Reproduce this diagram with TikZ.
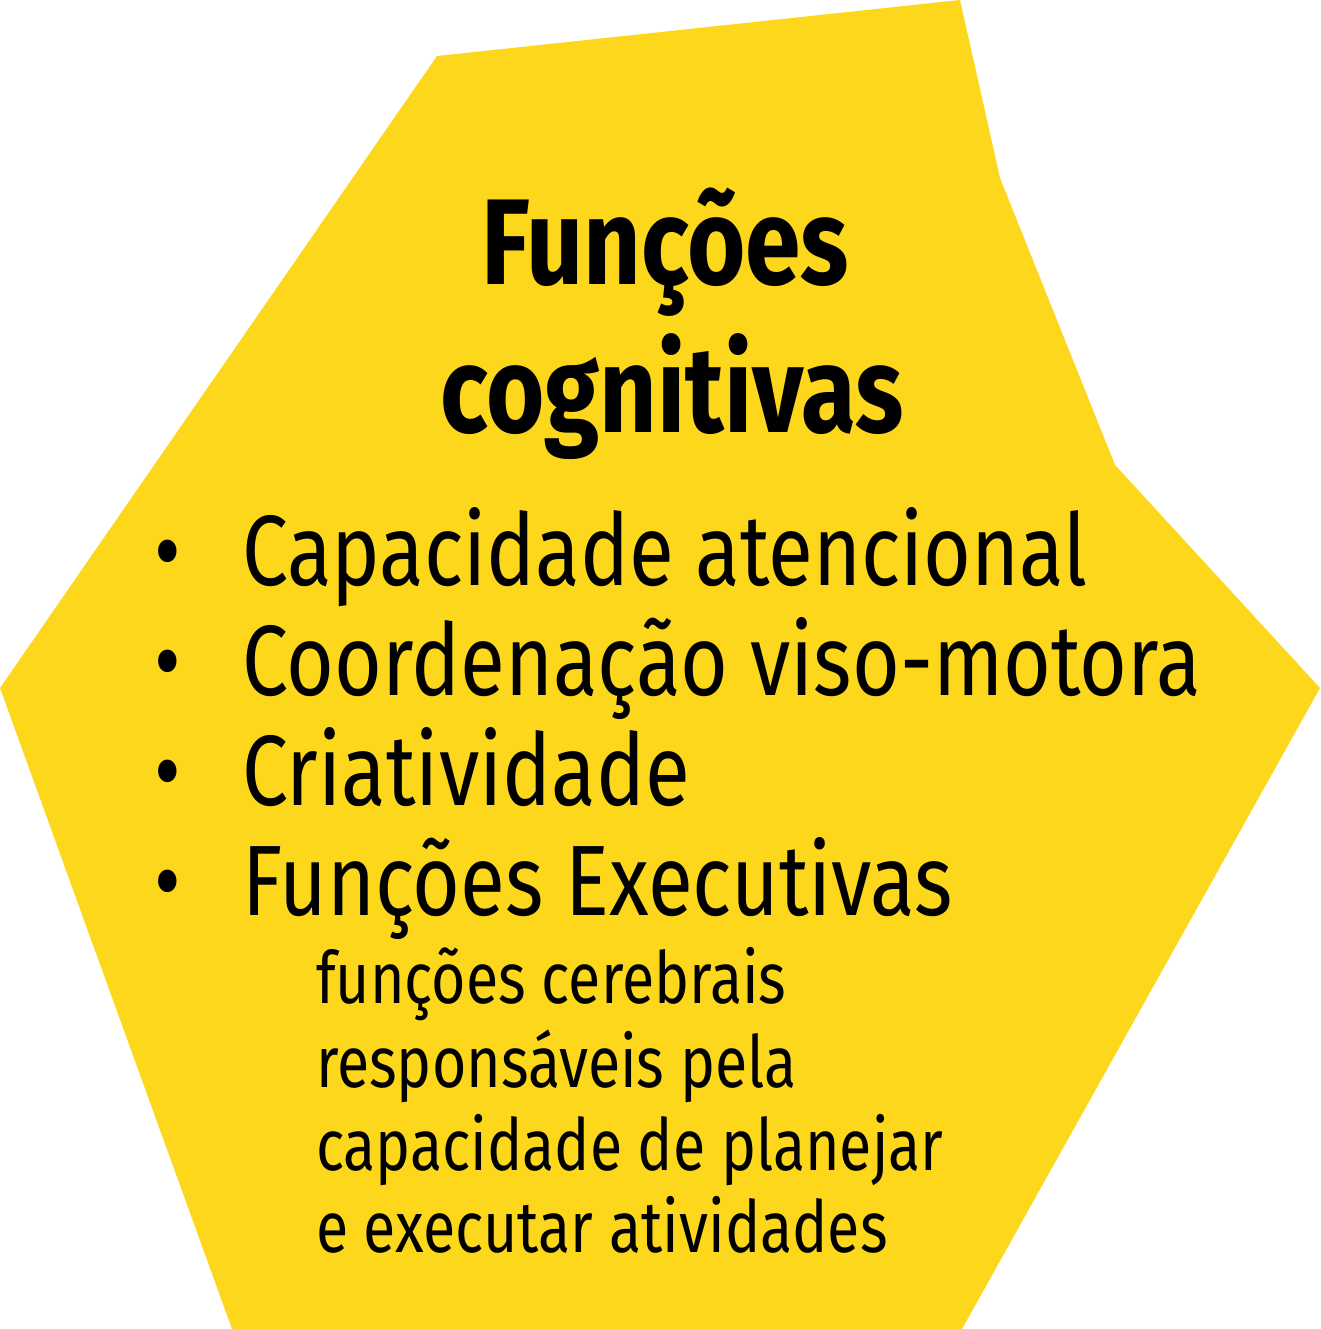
\documentclass[tikz,border=0pt]{standalone}
\usepackage{fontspec}
\setmainfont{Fira Sans}[FakeStretch=0.82]
\definecolor{hexy}{HTML}{FDD71B}
\begin{document}
\begin{tikzpicture}[x=1pt,y=-1pt,
  big/.style={inner sep=0,anchor=base west,font=\fontsize{100}{110}\selectfont},
  small/.style={inner sep=0,anchor=base west,font=\fontsize{72}{83}\selectfont},
  ttl/.style={inner sep=0,anchor=base,font=\fontsize{122}{140}\selectfont\bfseries}]
\useasboundingbox (0,0) rectangle (1320,1329);
\fill[hexy] (437,56) -- (960,0) -- (1000,178) -- (1115,465) -- (1320,688) -- (962,1329) -- (232,1329) -- (0,688) -- cycle;
\node[ttl] (t1) at (665,285) {Funções};
\node[ttl] (t2) at (672,432) {cognitivas};
\foreach \y/\t [count=\i] in {585/Capacidade atencional,695/Coordenação viso-motora,805/Criatividade,915/Funções Executivas}{
  \node[big] (b\i) at (242,\y) {\t};
  \node[big,anchor=base] (d\i) at (168,\y) {•};
}
\node[small] (s1) at (316,1003) {funções cerebrais};
\node[small] (s2) at (316,1087) {responsáveis pela};
\node[small] (s3) at (316,1170) {capacidade de planejar};
\node[small] (s4) at (316,1252) {e executar atividades};
\end{tikzpicture}
\end{document}
